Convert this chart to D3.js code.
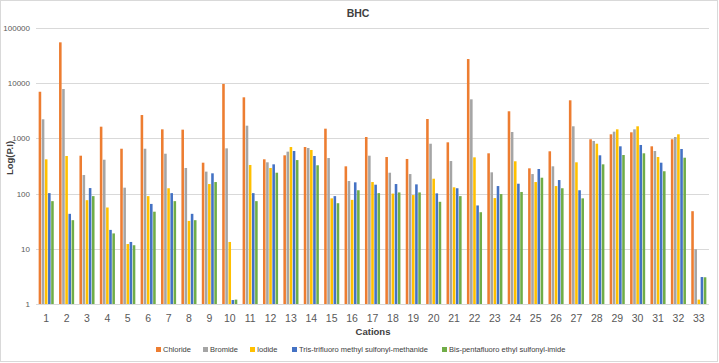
<!DOCTYPE html>
<html>
<head>
<meta charset="utf-8">
<script src="https://cdn.jsdelivr.net/npm/d3@7"></script>
<style>
  body { margin: 0; background: #fff; }
  svg { font-family: "Liberation Sans", Arial, sans-serif; }
</style>
</head>
<body>
<svg id="chart" width="719" height="363"></svg>
<script>
// data
const cations = d3.range(1, 34).map(String)
const seriesNames = ["Chloride", "Bromide", "Iodide", "Tris-trifluoro methyl sulfonyl-methanide", "Bis-pentafluoro ethyl sulfonyl-imide"]
const colors = ["#ED7D31", "#A5A5A5", "#FFC000", "#4472C4", "#70AD47"]
const yTicks = [1, 10, 100, 1000, 10000, 100000]

const chloride = [7000, 55000, 486, 1630, 650, 2650, 1460, 1440, 363, 9700, 5550, 418, 494, 698, 1500, 312, 1060, 460, 424, 2245, 849, 27400, 537, 3100, 287, 584, 4900, 964, 1186, 1290, 719, 964, 48]
const bromide = [2220, 7850, 217, 411, 128, 650, 528, 291, 250, 660, 1700, 369, 575, 670, 441, 169, 486, 239, 226, 801, 389, 5100, 243, 1306, 226, 312, 1657, 898, 1324, 1460, 591, 1060, 9.8]
const iodide = [418, 480, 76, 56, 12.2, 90, 125, 32, 149, 13.3, 330, 291, 698, 617, 82, 77, 162, 100, 94, 186, 130, 454, 83, 385, 162, 137, 369, 801, 1460, 1657, 460, 1186, 1.2]
const methanide = [102, 43, 126, 22, 13.3, 65, 102, 43, 233, 1.18, 102, 339, 591, 480, 90, 160, 145, 149, 147, 101, 125, 61, 137, 151, 279, 176, 115, 494, 719, 760, 363, 643, 3.08]
const imide = [73, 33, 90, 19, 11.6, 47, 73, 33, 162, 1.2, 73, 239, 405, 326, 67, 115, 102, 105, 105, 71, 90, 46, 98, 107, 194, 125, 82, 339, 500, 537, 254, 447, 3.05]

const seriesValues = [chloride, bromide, iodide, methanide, imide]

const svg = d3.select("#chart")
const W = 719, H = 363
const margin = { top: 28, bottom: 59, left: 36, right: 10 }

// outer chart border
svg.append("rect")
	.attr("x", 0.5).attr("y", 0.5)
	.attr("width", W - 2).attr("height", H - 2)
	.attr("fill", "#fff").attr("stroke", "#d9d9d9")

const scale = {
	x: d3.scaleBand().domain(cations).range([margin.left, W - margin.right]).paddingInner(0.26).paddingOuter(0.13),
	y: d3.scaleLog().domain([1, 100000]).range([H - margin.bottom, margin.top]),
}
scale.s = d3.scaleBand().domain(d3.range(5)).range([0, scale.x.bandwidth()]).paddingInner(0.18)

// grid
svg.append("g").selectAll("line")
	.data(yTicks)
	.join("line")
	.attr("x1", margin.left).attr("x2", W - margin.right)
	.attr("y1", (d) => Math.round(scale.y(d)) + 0.5)
	.attr("y2", (d) => Math.round(scale.y(d)) + 0.5)
	.attr("stroke", "#d9d9d9")

// y labels
svg.append("g").selectAll("text")
	.data(yTicks)
	.join("text")
	.attr("x", margin.left - 6)
	.attr("y", (d) => scale.y(d) + 3)
	.attr("text-anchor", "end")
	.attr("font-size", 8)
	.attr("fill", "#595959")
	.text((d) => d)

// bars
const groups = svg.append("g").selectAll("g")
	.data(cations)
	.join("g")
	.attr("transform", (d) => `translate(${scale.x(d)},0)`)

groups.selectAll("rect")
	.data((d, i) => seriesValues.map((vals, s) => ({ s, v: vals[i] })))
	.join("rect")
	.attr("x", (d) => scale.s(d.s))
	.attr("width", scale.s.bandwidth())
	.attr("y", (d) => scale.y(d.v))
	.attr("height", (d) => scale.y(1) - scale.y(d.v))
	.attr("fill", (d) => colors[d.s])

// x labels
svg.append("g").selectAll("text")
	.data(cations)
	.join("text")
	.attr("x", (d) => scale.x(d) + scale.x.bandwidth() / 2)
	.attr("y", H - margin.bottom + 18)
	.attr("text-anchor", "middle")
	.attr("font-size", 10.5)
	.attr("fill", "#595959")
	.text((d) => d)

// titles
svg.append("text")
	.attr("x", 358).attr("y", 17)
	.attr("text-anchor", "middle")
	.attr("font-size", 10.5).attr("font-weight", "bold")
	.attr("fill", "#404040")
	.text("BHC")

svg.append("text")
	.attr("x", 373).attr("y", 335)
	.attr("text-anchor", "middle")
	.attr("font-size", 9.5).attr("font-weight", "bold")
	.attr("fill", "#404040")
	.text("Cations")

svg.append("text")
	.attr("transform", "translate(13,158) rotate(-90)")
	.attr("text-anchor", "middle")
	.attr("font-size", 9.5).attr("font-weight", "bold")
	.attr("fill", "#404040")
	.text("Log(P.I)")

// legend
const legendX = [156, 203, 250, 292, 442]
const legend = svg.append("g").selectAll("g")
	.data(seriesNames)
	.join("g")
	.attr("transform", (d, i) => `translate(${legendX[i]},352)`)
legend.append("rect")
	.attr("x", 0).attr("y", -5)
	.attr("width", 5).attr("height", 5)
	.attr("fill", (d, i) => colors[i])
legend.append("text")
	.attr("x", 7).attr("y", 0)
	.attr("font-size", 7.5)
	.attr("fill", "#404040")
	.text((d) => d)
</script>
</body>
</html>
